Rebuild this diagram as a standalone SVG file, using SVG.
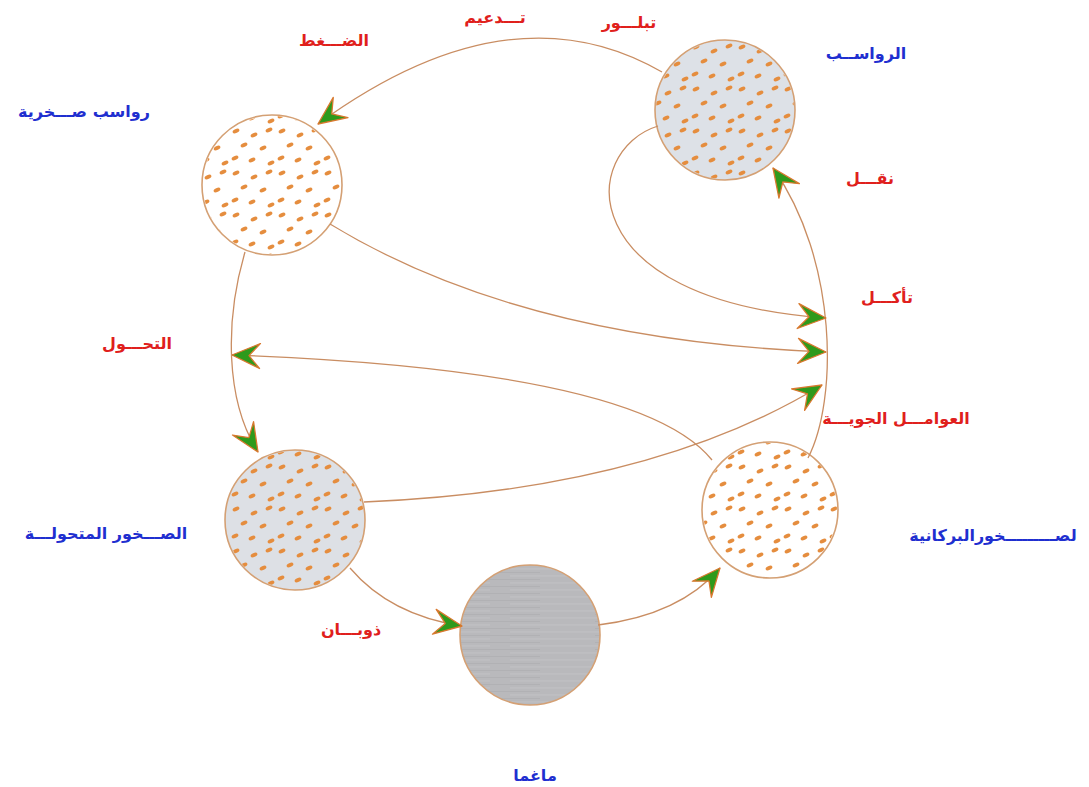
<svg xmlns="http://www.w3.org/2000/svg" width="1089" height="787" viewBox="0 0 1089 787">
<style>
.node{stroke:#d4a074;stroke-width:1.6}
.conn path{fill:none;stroke:#c98d62;stroke-width:1.3;marker-end:url(#ar)}
.t{font-family:"DejaVu Sans","Noto Sans",sans-serif;font-size:16px;font-weight:bold;text-anchor:middle}
.red{fill:#e0201c}
.blue{fill:#1f2fd0}
</style>
<defs>
<marker id="ar" viewBox="-31 -15 33 30" refX="0" refY="0" markerWidth="33" markerHeight="30" markerUnits="userSpaceOnUse" orient="auto">
<path d="M0,0 L-28,-12.5 L-17,0 L-28,12.5 Z" fill="#2e9a1c" stroke="#d9782e" stroke-width="1.3" stroke-linejoin="round"/>
</marker>
<pattern id="dots" width="46" height="42" patternUnits="userSpaceOnUse">
<g fill="#e58d3e">
<ellipse cx="6" cy="5" rx="3.6" ry="2" transform="rotate(-25 6 5)"/>
<ellipse cx="24" cy="9" rx="3.6" ry="2" transform="rotate(-25 24 9)"/>
<ellipse cx="39" cy="4" rx="3.6" ry="2" transform="rotate(-25 39 4)"/>
<ellipse cx="14" cy="19" rx="3.6" ry="2" transform="rotate(-25 14 19)"/>
<ellipse cx="33" cy="22" rx="3.6" ry="2" transform="rotate(-25 33 22)"/>
<ellipse cx="5" cy="32" rx="3.6" ry="2" transform="rotate(-25 5 32)"/>
<ellipse cx="22" cy="34" rx="3.6" ry="2" transform="rotate(-25 22 34)"/>
<ellipse cx="41" cy="37" rx="3.6" ry="2" transform="rotate(-25 41 37)"/>
</g>
</pattern>
<pattern id="streak" width="140" height="7" patternUnits="userSpaceOnUse">
<rect width="140" height="7" fill="#b9b9bc"/>
<line x1="0" y1="2" x2="70" y2="2" stroke="#c4c4c7" stroke-width="0.8"/>
<line x1="90" y1="2" x2="140" y2="2" stroke="#c4c4c7" stroke-width="0.8"/>
<line x1="35" y1="5.5" x2="120" y2="5.5" stroke="#adadb0" stroke-width="0.7"/>
</pattern>
</defs>
<rect width="1089" height="787" fill="#ffffff"/>

<g id="sediments">
<circle class="node" cx="725" cy="110" r="70" fill="#dde1e7"/>
<circle cx="725" cy="110" r="69" fill="url(#dots)"/>
</g>
<g id="sedimentary-rocks">
<circle class="node" cx="272" cy="185" r="70" fill="#ffffff"/>
<circle cx="272" cy="185" r="69" fill="url(#dots)"/>
</g>
<g id="metamorphic-rocks">
<circle class="node" cx="295" cy="520" r="70" fill="#dde0e5"/>
<circle cx="295" cy="520" r="69" fill="url(#dots)"/>
</g>
<g id="magma">
<circle class="node" cx="530" cy="635" r="70" fill="url(#streak)"/>
</g>
<g id="volcanic-rocks">
<circle class="node" cx="770" cy="510" r="68" fill="#ffffff"/>
<circle cx="770" cy="510" r="67" fill="url(#dots)"/>
</g>

<g class="conn" id="connectors">
<path d="M662,72 Q510,-16 318,124"/>
<path d="M808,458 C838,400 838,260 773,168"/>
<path d="M658,126 C580,150 570,300 826,318"/>
<path d="M330,224 Q520,340 826,352"/>
<path d="M364,502 Q650,490 822,385"/>
<path d="M712,460 Q640,370 232,355"/>
<path d="M245,252 C225,320 225,400 258,452"/>
<path d="M350,568 Q390,615 462,626"/>
<path d="M598,625 Q680,615 720,568"/>
</g>

<g id="labels">
<text class="t red" x="495" y="23">تـــدعيم</text>
<text class="t red" x="629" y="28">تبلـــور</text>
<text class="t red" x="334" y="46">الضـــغط</text>
<text class="t blue" x="866" y="59">الرواســب</text>
<text class="t blue" x="84" y="117">رواسب صـــخرية</text>
<text class="t red" x="870" y="184">نقـــل</text>
<text class="t red" x="887" y="303">تأكـــل</text>
<text class="t red" x="137" y="349">التحـــول</text>
<text class="t red" x="896" y="424">العوامـــل الجويـــة</text>
<text class="t blue" x="106" y="539">الصـــخور المتحولـــة</text>
<text class="t blue" x="993" y="541">لصـــــــــخورالبركانية</text>
<text class="t red" x="351" y="635">ذوبـــان</text>
<text class="t blue" x="535" y="781">ماغما</text>
</g>
</svg>
